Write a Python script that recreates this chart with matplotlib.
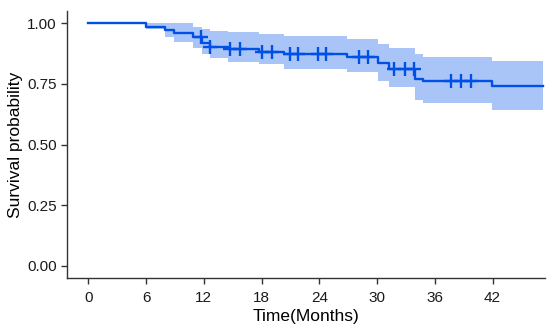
import matplotlib
matplotlib.use("Agg")
import matplotlib.pyplot as plt
import numpy as np

# Kaplan-Meier step data
step_times = [0, 6.0, 8.0, 8.9, 10.9, 11.8, 12.6, 14.5, 17.7, 20.3, 26.9, 30.1, 31.2, 33.9, 34.8, 41.9]
surv       = [1.0, 0.985, 0.972, 0.959, 0.944, 0.920, 0.902, 0.893, 0.882, 0.872, 0.859, 0.834, 0.810, 0.770, 0.760, 0.739]
upper      = [1.0, 1.000, 1.000, 1.000, 0.985, 0.975, 0.969, 0.962, 0.955, 0.946, 0.934, 0.915, 0.898, 0.872, 0.860, 0.843]
lower      = [1.0, 0.975, 0.941, 0.923, 0.896, 0.872, 0.855, 0.840, 0.831, 0.812, 0.797, 0.763, 0.735, 0.685, 0.670, 0.642]
end_time = 47.2

censor_times = [11.7, 12.6, 14.7, 15.8, 18.0, 19.1, 21.0, 21.75, 23.9, 24.75,
                28.1, 29.1, 31.8, 32.9, 33.8, 37.7, 38.75, 39.8]

x_ticks = [0, 6, 12, 18, 24, 30, 36, 42]
y_ticks = [0.0, 0.25, 0.5, 0.75, 1.0]

line_color = "#0050e6"
band_color = "#a9c5f7"

plt.rcParams['font.family'] = ['Liberation Sans', 'DejaVu Sans']

fig = plt.figure(figsize=(5.5, 3.33), dpi=100)
ax = fig.add_axes([0.122, 0.165, 0.868, 0.802])

t = np.array(step_times + [end_time])
s = np.array(surv + [surv[-1]])
u = np.array(upper + [upper[-1]])
l = np.array(lower + [lower[-1]])

ax.fill_between(t, l, u, step="post", color=band_color, linewidth=0, zorder=1)
ax.step(t, s, where="post", color=line_color, linewidth=1.7, zorder=3)

# censor marks on the curve
def s_at(x):
    idx = np.searchsorted(np.array(step_times), x, side="right") - 1
    return surv[idx]
cs = [s_at(c) for c in censor_times]
ax.plot(censor_times, cs, linestyle="none", marker="+", markersize=9.5,
        markeredgewidth=1.7, color=line_color, zorder=4)

ax.set_xlim(-2.2, 47.4)
ax.set_ylim(-0.05, 1.05)
ax.set_xticks(x_ticks)
ax.set_xticklabels([str(v) for v in x_ticks])
ax.set_yticks(y_ticks)
ax.set_yticklabels([f"{v:.2f}" for v in y_ticks])

for side in ["top", "right"]:
    ax.spines[side].set_visible(False)
for side in ["left", "bottom"]:
    ax.spines[side].set_color("#333333")
    ax.spines[side].set_linewidth(1.0)
ax.tick_params(axis="both", colors="#333333", labelcolor="#1a1a1a",
               labelsize=11, length=4.5, width=1.0)
ax.tick_params(axis="x", pad=5)
ax.tick_params(axis="y", pad=3)

ax.set_xlabel("Time(Months)", fontsize=12.5, color="black", labelpad=3)
ax.set_ylabel("Survival probability", fontsize=12.5, color="black", labelpad=3)

fig.savefig("out.png", dpi=100)
